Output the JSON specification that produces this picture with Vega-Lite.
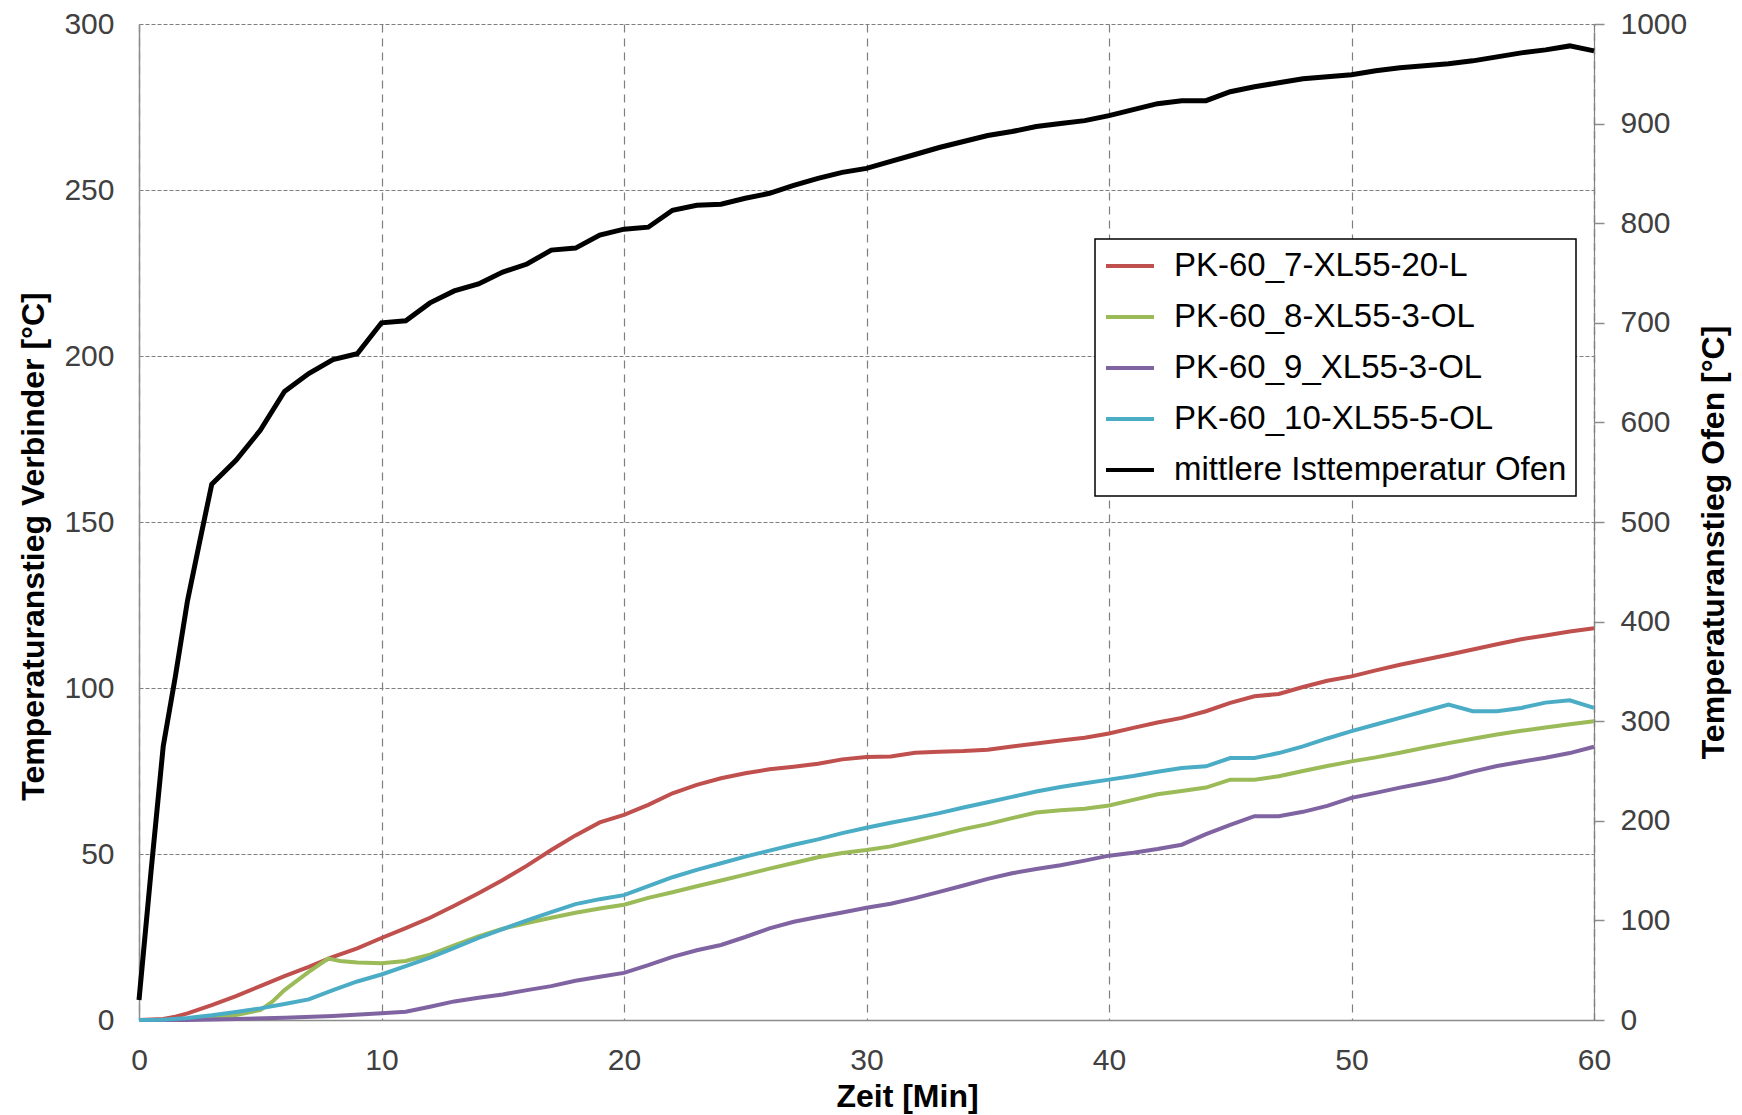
{
  "$schema": "https://vega.github.io/schema/vega-lite/v6.json",
  "width": 1455,
  "height": 996,
  "autosize": {"type": "none"},
  "padding": {"left": 139, "top": 24, "right": 148, "bottom": 95},
  "background": "white",
  "datasets": {
    "verbinder": [
      {"t":0,"series":"PK-60_7-XL55-20-L","v":0},{"t":1,"series":"PK-60_7-XL55-20-L","v":0.3},{"t":1.5,"series":"PK-60_7-XL55-20-L","v":1},{"t":2,"series":"PK-60_7-XL55-20-L","v":2},{"t":3,"series":"PK-60_7-XL55-20-L","v":4.5},{"t":4,"series":"PK-60_7-XL55-20-L","v":7.2},{"t":5,"series":"PK-60_7-XL55-20-L","v":10.2},{"t":6,"series":"PK-60_7-XL55-20-L","v":13.2},{"t":7,"series":"PK-60_7-XL55-20-L","v":16},{"t":8,"series":"PK-60_7-XL55-20-L","v":19},{"t":9,"series":"PK-60_7-XL55-20-L","v":21.6},{"t":10,"series":"PK-60_7-XL55-20-L","v":24.7},{"t":11,"series":"PK-60_7-XL55-20-L","v":27.7},{"t":12,"series":"PK-60_7-XL55-20-L","v":30.8},{"t":13,"series":"PK-60_7-XL55-20-L","v":34.4},{"t":14,"series":"PK-60_7-XL55-20-L","v":38.2},{"t":15,"series":"PK-60_7-XL55-20-L","v":42.2},{"t":16,"series":"PK-60_7-XL55-20-L","v":46.5},{"t":17,"series":"PK-60_7-XL55-20-L","v":51.2},{"t":18,"series":"PK-60_7-XL55-20-L","v":55.6},{"t":19,"series":"PK-60_7-XL55-20-L","v":59.5},{"t":20,"series":"PK-60_7-XL55-20-L","v":61.8},{"t":21,"series":"PK-60_7-XL55-20-L","v":64.8},{"t":22,"series":"PK-60_7-XL55-20-L","v":68.3},{"t":23,"series":"PK-60_7-XL55-20-L","v":70.8},{"t":24,"series":"PK-60_7-XL55-20-L","v":72.8},{"t":25,"series":"PK-60_7-XL55-20-L","v":74.3},{"t":26,"series":"PK-60_7-XL55-20-L","v":75.5},{"t":27,"series":"PK-60_7-XL55-20-L","v":76.3},{"t":28,"series":"PK-60_7-XL55-20-L","v":77.2},{"t":29,"series":"PK-60_7-XL55-20-L","v":78.5},{"t":30,"series":"PK-60_7-XL55-20-L","v":79.2},{"t":31,"series":"PK-60_7-XL55-20-L","v":79.4},{"t":32,"series":"PK-60_7-XL55-20-L","v":80.5},{"t":33,"series":"PK-60_7-XL55-20-L","v":80.8},{"t":34,"series":"PK-60_7-XL55-20-L","v":81},{"t":35,"series":"PK-60_7-XL55-20-L","v":81.4},{"t":36,"series":"PK-60_7-XL55-20-L","v":82.4},{"t":37,"series":"PK-60_7-XL55-20-L","v":83.3},{"t":38,"series":"PK-60_7-XL55-20-L","v":84.2},{"t":39,"series":"PK-60_7-XL55-20-L","v":85},{"t":40,"series":"PK-60_7-XL55-20-L","v":86.3},{"t":41,"series":"PK-60_7-XL55-20-L","v":88},{"t":42,"series":"PK-60_7-XL55-20-L","v":89.6},{"t":43,"series":"PK-60_7-XL55-20-L","v":91},{"t":44,"series":"PK-60_7-XL55-20-L","v":93},{"t":45,"series":"PK-60_7-XL55-20-L","v":95.5},{"t":46,"series":"PK-60_7-XL55-20-L","v":97.5},{"t":47,"series":"PK-60_7-XL55-20-L","v":98.2},{"t":48,"series":"PK-60_7-XL55-20-L","v":100.3},{"t":49,"series":"PK-60_7-XL55-20-L","v":102.2},{"t":50,"series":"PK-60_7-XL55-20-L","v":103.5},{"t":51,"series":"PK-60_7-XL55-20-L","v":105.3},{"t":52,"series":"PK-60_7-XL55-20-L","v":107},{"t":53,"series":"PK-60_7-XL55-20-L","v":108.5},{"t":54,"series":"PK-60_7-XL55-20-L","v":110},{"t":55,"series":"PK-60_7-XL55-20-L","v":111.6},{"t":56,"series":"PK-60_7-XL55-20-L","v":113.2},{"t":57,"series":"PK-60_7-XL55-20-L","v":114.7},{"t":58,"series":"PK-60_7-XL55-20-L","v":115.8},{"t":59,"series":"PK-60_7-XL55-20-L","v":117},{"t":60,"series":"PK-60_7-XL55-20-L","v":118},

      {"t":0,"series":"PK-60_8-XL55-3-OL","v":0},{"t":1,"series":"PK-60_8-XL55-3-OL","v":0},{"t":2,"series":"PK-60_8-XL55-3-OL","v":0.3},{"t":3,"series":"PK-60_8-XL55-3-OL","v":0.8},{"t":4,"series":"PK-60_8-XL55-3-OL","v":1.5},{"t":5,"series":"PK-60_8-XL55-3-OL","v":3},{"t":5.5,"series":"PK-60_8-XL55-3-OL","v":5.5},{"t":6,"series":"PK-60_8-XL55-3-OL","v":9},{"t":7,"series":"PK-60_8-XL55-3-OL","v":14.5},{"t":7.8,"series":"PK-60_8-XL55-3-OL","v":18.5},{"t":8.3,"series":"PK-60_8-XL55-3-OL","v":17.8},{"t":9,"series":"PK-60_8-XL55-3-OL","v":17.3},{"t":10,"series":"PK-60_8-XL55-3-OL","v":17.1},{"t":11,"series":"PK-60_8-XL55-3-OL","v":17.8},{"t":12,"series":"PK-60_8-XL55-3-OL","v":19.7},{"t":13,"series":"PK-60_8-XL55-3-OL","v":22.5},{"t":14,"series":"PK-60_8-XL55-3-OL","v":25.2},{"t":15,"series":"PK-60_8-XL55-3-OL","v":27.5},{"t":16,"series":"PK-60_8-XL55-3-OL","v":29.2},{"t":17,"series":"PK-60_8-XL55-3-OL","v":30.8},{"t":18,"series":"PK-60_8-XL55-3-OL","v":32.3},{"t":19,"series":"PK-60_8-XL55-3-OL","v":33.6},{"t":20,"series":"PK-60_8-XL55-3-OL","v":34.7},{"t":21,"series":"PK-60_8-XL55-3-OL","v":36.8},{"t":22,"series":"PK-60_8-XL55-3-OL","v":38.5},{"t":23,"series":"PK-60_8-XL55-3-OL","v":40.3},{"t":24,"series":"PK-60_8-XL55-3-OL","v":42},{"t":25,"series":"PK-60_8-XL55-3-OL","v":43.8},{"t":26,"series":"PK-60_8-XL55-3-OL","v":45.6},{"t":27,"series":"PK-60_8-XL55-3-OL","v":47.3},{"t":28,"series":"PK-60_8-XL55-3-OL","v":49},{"t":29,"series":"PK-60_8-XL55-3-OL","v":50.3},{"t":30,"series":"PK-60_8-XL55-3-OL","v":51.2},{"t":31,"series":"PK-60_8-XL55-3-OL","v":52.3},{"t":32,"series":"PK-60_8-XL55-3-OL","v":54},{"t":33,"series":"PK-60_8-XL55-3-OL","v":55.7},{"t":34,"series":"PK-60_8-XL55-3-OL","v":57.5},{"t":35,"series":"PK-60_8-XL55-3-OL","v":59},{"t":36,"series":"PK-60_8-XL55-3-OL","v":60.8},{"t":37,"series":"PK-60_8-XL55-3-OL","v":62.5},{"t":38,"series":"PK-60_8-XL55-3-OL","v":63.2},{"t":39,"series":"PK-60_8-XL55-3-OL","v":63.6},{"t":40,"series":"PK-60_8-XL55-3-OL","v":64.6},{"t":41,"series":"PK-60_8-XL55-3-OL","v":66.3},{"t":42,"series":"PK-60_8-XL55-3-OL","v":68},{"t":43,"series":"PK-60_8-XL55-3-OL","v":69},{"t":44,"series":"PK-60_8-XL55-3-OL","v":70},{"t":45,"series":"PK-60_8-XL55-3-OL","v":72.4},{"t":46,"series":"PK-60_8-XL55-3-OL","v":72.4},{"t":47,"series":"PK-60_8-XL55-3-OL","v":73.4},{"t":48,"series":"PK-60_8-XL55-3-OL","v":75},{"t":49,"series":"PK-60_8-XL55-3-OL","v":76.5},{"t":50,"series":"PK-60_8-XL55-3-OL","v":77.9},{"t":51,"series":"PK-60_8-XL55-3-OL","v":79.1},{"t":52,"series":"PK-60_8-XL55-3-OL","v":80.5},{"t":53,"series":"PK-60_8-XL55-3-OL","v":82},{"t":54,"series":"PK-60_8-XL55-3-OL","v":83.4},{"t":55,"series":"PK-60_8-XL55-3-OL","v":84.7},{"t":56,"series":"PK-60_8-XL55-3-OL","v":86},{"t":57,"series":"PK-60_8-XL55-3-OL","v":87.1},{"t":58,"series":"PK-60_8-XL55-3-OL","v":88.1},{"t":59,"series":"PK-60_8-XL55-3-OL","v":89.1},{"t":60,"series":"PK-60_8-XL55-3-OL","v":90},

      {"t":0,"series":"PK-60_9_XL55-3-OL","v":0},{"t":2,"series":"PK-60_9_XL55-3-OL","v":0},{"t":4,"series":"PK-60_9_XL55-3-OL","v":0.3},{"t":6,"series":"PK-60_9_XL55-3-OL","v":0.7},{"t":8,"series":"PK-60_9_XL55-3-OL","v":1.2},{"t":10,"series":"PK-60_9_XL55-3-OL","v":2},{"t":11,"series":"PK-60_9_XL55-3-OL","v":2.5},{"t":12,"series":"PK-60_9_XL55-3-OL","v":4},{"t":13,"series":"PK-60_9_XL55-3-OL","v":5.6},{"t":14,"series":"PK-60_9_XL55-3-OL","v":6.7},{"t":15,"series":"PK-60_9_XL55-3-OL","v":7.7},{"t":16,"series":"PK-60_9_XL55-3-OL","v":9},{"t":17,"series":"PK-60_9_XL55-3-OL","v":10.2},{"t":18,"series":"PK-60_9_XL55-3-OL","v":11.8},{"t":19,"series":"PK-60_9_XL55-3-OL","v":13},{"t":20,"series":"PK-60_9_XL55-3-OL","v":14.2},{"t":21,"series":"PK-60_9_XL55-3-OL","v":16.5},{"t":22,"series":"PK-60_9_XL55-3-OL","v":19},{"t":23,"series":"PK-60_9_XL55-3-OL","v":21},{"t":24,"series":"PK-60_9_XL55-3-OL","v":22.6},{"t":25,"series":"PK-60_9_XL55-3-OL","v":25},{"t":26,"series":"PK-60_9_XL55-3-OL","v":27.6},{"t":27,"series":"PK-60_9_XL55-3-OL","v":29.6},{"t":28,"series":"PK-60_9_XL55-3-OL","v":31},{"t":29,"series":"PK-60_9_XL55-3-OL","v":32.4},{"t":30,"series":"PK-60_9_XL55-3-OL","v":33.8},{"t":31,"series":"PK-60_9_XL55-3-OL","v":35},{"t":32,"series":"PK-60_9_XL55-3-OL","v":36.7},{"t":33,"series":"PK-60_9_XL55-3-OL","v":38.6},{"t":34,"series":"PK-60_9_XL55-3-OL","v":40.5},{"t":35,"series":"PK-60_9_XL55-3-OL","v":42.5},{"t":36,"series":"PK-60_9_XL55-3-OL","v":44.2},{"t":37,"series":"PK-60_9_XL55-3-OL","v":45.5},{"t":38,"series":"PK-60_9_XL55-3-OL","v":46.6},{"t":39,"series":"PK-60_9_XL55-3-OL","v":48},{"t":40,"series":"PK-60_9_XL55-3-OL","v":49.5},{"t":41,"series":"PK-60_9_XL55-3-OL","v":50.4},{"t":42,"series":"PK-60_9_XL55-3-OL","v":51.5},{"t":43,"series":"PK-60_9_XL55-3-OL","v":52.8},{"t":44,"series":"PK-60_9_XL55-3-OL","v":56},{"t":45,"series":"PK-60_9_XL55-3-OL","v":58.8},{"t":46,"series":"PK-60_9_XL55-3-OL","v":61.4},{"t":47,"series":"PK-60_9_XL55-3-OL","v":61.4},{"t":48,"series":"PK-60_9_XL55-3-OL","v":62.7},{"t":49,"series":"PK-60_9_XL55-3-OL","v":64.5},{"t":50,"series":"PK-60_9_XL55-3-OL","v":66.9},{"t":51,"series":"PK-60_9_XL55-3-OL","v":68.4},{"t":52,"series":"PK-60_9_XL55-3-OL","v":70},{"t":53,"series":"PK-60_9_XL55-3-OL","v":71.4},{"t":54,"series":"PK-60_9_XL55-3-OL","v":72.9},{"t":55,"series":"PK-60_9_XL55-3-OL","v":74.8},{"t":56,"series":"PK-60_9_XL55-3-OL","v":76.5},{"t":57,"series":"PK-60_9_XL55-3-OL","v":77.8},{"t":58,"series":"PK-60_9_XL55-3-OL","v":79},{"t":59,"series":"PK-60_9_XL55-3-OL","v":80.4},{"t":60,"series":"PK-60_9_XL55-3-OL","v":82.3},

      {"t":0,"series":"PK-60_10-XL55-5-OL","v":0},{"t":1,"series":"PK-60_10-XL55-5-OL","v":0.1},{"t":2,"series":"PK-60_10-XL55-5-OL","v":0.6},{"t":3,"series":"PK-60_10-XL55-5-OL","v":1.4},{"t":4,"series":"PK-60_10-XL55-5-OL","v":2.4},{"t":5,"series":"PK-60_10-XL55-5-OL","v":3.5},{"t":6,"series":"PK-60_10-XL55-5-OL","v":4.8},{"t":7,"series":"PK-60_10-XL55-5-OL","v":6.2},{"t":8,"series":"PK-60_10-XL55-5-OL","v":9},{"t":9,"series":"PK-60_10-XL55-5-OL","v":11.6},{"t":10,"series":"PK-60_10-XL55-5-OL","v":13.7},{"t":11,"series":"PK-60_10-XL55-5-OL","v":16.2},{"t":12,"series":"PK-60_10-XL55-5-OL","v":18.8},{"t":13,"series":"PK-60_10-XL55-5-OL","v":21.7},{"t":14,"series":"PK-60_10-XL55-5-OL","v":24.7},{"t":15,"series":"PK-60_10-XL55-5-OL","v":27.4},{"t":16,"series":"PK-60_10-XL55-5-OL","v":30},{"t":17,"series":"PK-60_10-XL55-5-OL","v":32.5},{"t":18,"series":"PK-60_10-XL55-5-OL","v":34.9},{"t":19,"series":"PK-60_10-XL55-5-OL","v":36.4},{"t":20,"series":"PK-60_10-XL55-5-OL","v":37.6},{"t":21,"series":"PK-60_10-XL55-5-OL","v":40.3},{"t":22,"series":"PK-60_10-XL55-5-OL","v":43},{"t":23,"series":"PK-60_10-XL55-5-OL","v":45.2},{"t":24,"series":"PK-60_10-XL55-5-OL","v":47.2},{"t":25,"series":"PK-60_10-XL55-5-OL","v":49.2},{"t":26,"series":"PK-60_10-XL55-5-OL","v":51},{"t":27,"series":"PK-60_10-XL55-5-OL","v":52.8},{"t":28,"series":"PK-60_10-XL55-5-OL","v":54.4},{"t":29,"series":"PK-60_10-XL55-5-OL","v":56.3},{"t":30,"series":"PK-60_10-XL55-5-OL","v":57.9},{"t":31,"series":"PK-60_10-XL55-5-OL","v":59.4},{"t":32,"series":"PK-60_10-XL55-5-OL","v":60.8},{"t":33,"series":"PK-60_10-XL55-5-OL","v":62.3},{"t":34,"series":"PK-60_10-XL55-5-OL","v":64},{"t":35,"series":"PK-60_10-XL55-5-OL","v":65.6},{"t":36,"series":"PK-60_10-XL55-5-OL","v":67.2},{"t":37,"series":"PK-60_10-XL55-5-OL","v":68.8},{"t":38,"series":"PK-60_10-XL55-5-OL","v":70.2},{"t":39,"series":"PK-60_10-XL55-5-OL","v":71.3},{"t":40,"series":"PK-60_10-XL55-5-OL","v":72.4},{"t":41,"series":"PK-60_10-XL55-5-OL","v":73.5},{"t":42,"series":"PK-60_10-XL55-5-OL","v":74.8},{"t":43,"series":"PK-60_10-XL55-5-OL","v":75.9},{"t":44,"series":"PK-60_10-XL55-5-OL","v":76.4},{"t":45,"series":"PK-60_10-XL55-5-OL","v":78.9},{"t":46,"series":"PK-60_10-XL55-5-OL","v":78.9},{"t":47,"series":"PK-60_10-XL55-5-OL","v":80.4},{"t":48,"series":"PK-60_10-XL55-5-OL","v":82.4},{"t":49,"series":"PK-60_10-XL55-5-OL","v":84.8},{"t":50,"series":"PK-60_10-XL55-5-OL","v":87},{"t":51,"series":"PK-60_10-XL55-5-OL","v":89},{"t":52,"series":"PK-60_10-XL55-5-OL","v":91},{"t":53,"series":"PK-60_10-XL55-5-OL","v":93},{"t":54,"series":"PK-60_10-XL55-5-OL","v":95},{"t":55,"series":"PK-60_10-XL55-5-OL","v":93},{"t":56,"series":"PK-60_10-XL55-5-OL","v":93},{"t":57,"series":"PK-60_10-XL55-5-OL","v":94},{"t":58,"series":"PK-60_10-XL55-5-OL","v":95.6},{"t":59,"series":"PK-60_10-XL55-5-OL","v":96.3},{"t":60,"series":"PK-60_10-XL55-5-OL","v":94}
    ],
    "ofen": [
      {"t":0,"series":"mittlere Isttemperatur Ofen","v":20},{"t":0.5,"series":"mittlere Isttemperatur Ofen","v":150},{"t":1,"series":"mittlere Isttemperatur Ofen","v":275},{"t":1.5,"series":"mittlere Isttemperatur Ofen","v":345},{"t":2,"series":"mittlere Isttemperatur Ofen","v":421},{"t":2.5,"series":"mittlere Isttemperatur Ofen","v":480},{"t":3,"series":"mittlere Isttemperatur Ofen","v":538},{"t":4,"series":"mittlere Isttemperatur Ofen","v":562},{"t":5,"series":"mittlere Isttemperatur Ofen","v":592},{"t":6,"series":"mittlere Isttemperatur Ofen","v":631},{"t":7,"series":"mittlere Isttemperatur Ofen","v":649},{"t":8,"series":"mittlere Isttemperatur Ofen","v":663},{"t":9,"series":"mittlere Isttemperatur Ofen","v":669},{"t":10,"series":"mittlere Isttemperatur Ofen","v":700},{"t":11,"series":"mittlere Isttemperatur Ofen","v":702},{"t":12,"series":"mittlere Isttemperatur Ofen","v":720},{"t":13,"series":"mittlere Isttemperatur Ofen","v":732},{"t":14,"series":"mittlere Isttemperatur Ofen","v":739},{"t":15,"series":"mittlere Isttemperatur Ofen","v":751},{"t":16,"series":"mittlere Isttemperatur Ofen","v":759},{"t":17,"series":"mittlere Isttemperatur Ofen","v":773},{"t":18,"series":"mittlere Isttemperatur Ofen","v":775},{"t":19,"series":"mittlere Isttemperatur Ofen","v":788},{"t":20,"series":"mittlere Isttemperatur Ofen","v":794},{"t":21,"series":"mittlere Isttemperatur Ofen","v":796},{"t":22,"series":"mittlere Isttemperatur Ofen","v":813},{"t":23,"series":"mittlere Isttemperatur Ofen","v":818},{"t":24,"series":"mittlere Isttemperatur Ofen","v":819},{"t":25,"series":"mittlere Isttemperatur Ofen","v":825},{"t":26,"series":"mittlere Isttemperatur Ofen","v":830},{"t":27,"series":"mittlere Isttemperatur Ofen","v":838},{"t":28,"series":"mittlere Isttemperatur Ofen","v":845},{"t":29,"series":"mittlere Isttemperatur Ofen","v":851},{"t":30,"series":"mittlere Isttemperatur Ofen","v":855},{"t":31,"series":"mittlere Isttemperatur Ofen","v":862},{"t":32,"series":"mittlere Isttemperatur Ofen","v":869},{"t":33,"series":"mittlere Isttemperatur Ofen","v":876},{"t":34,"series":"mittlere Isttemperatur Ofen","v":882},{"t":35,"series":"mittlere Isttemperatur Ofen","v":888},{"t":36,"series":"mittlere Isttemperatur Ofen","v":892},{"t":37,"series":"mittlere Isttemperatur Ofen","v":897},{"t":38,"series":"mittlere Isttemperatur Ofen","v":900},{"t":39,"series":"mittlere Isttemperatur Ofen","v":903},{"t":40,"series":"mittlere Isttemperatur Ofen","v":908},{"t":41,"series":"mittlere Isttemperatur Ofen","v":914},{"t":42,"series":"mittlere Isttemperatur Ofen","v":920},{"t":43,"series":"mittlere Isttemperatur Ofen","v":923},{"t":44,"series":"mittlere Isttemperatur Ofen","v":923},{"t":45,"series":"mittlere Isttemperatur Ofen","v":932},{"t":46,"series":"mittlere Isttemperatur Ofen","v":937},{"t":47,"series":"mittlere Isttemperatur Ofen","v":941},{"t":48,"series":"mittlere Isttemperatur Ofen","v":945},{"t":49,"series":"mittlere Isttemperatur Ofen","v":947},{"t":50,"series":"mittlere Isttemperatur Ofen","v":949},{"t":51,"series":"mittlere Isttemperatur Ofen","v":953},{"t":52,"series":"mittlere Isttemperatur Ofen","v":956},{"t":53,"series":"mittlere Isttemperatur Ofen","v":958},{"t":54,"series":"mittlere Isttemperatur Ofen","v":960},{"t":55,"series":"mittlere Isttemperatur Ofen","v":963},{"t":56,"series":"mittlere Isttemperatur Ofen","v":967},{"t":57,"series":"mittlere Isttemperatur Ofen","v":971},{"t":58,"series":"mittlere Isttemperatur Ofen","v":974},{"t":59,"series":"mittlere Isttemperatur Ofen","v":978},{"t":60,"series":"mittlere Isttemperatur Ofen","v":973}
    ]
  },
  "encoding": {
    "x": {
      "field": "t", "type": "quantitative",
      "scale": {"domain": [0, 60], "nice": false, "zero": false},
      "axis": {
        "values": [0, 10, 20, 30, 40, 50, 60],
        "title": "Zeit [Min]",
        "grid": true, "gridDash": [8, 6], "gridColor": "#7f7f7f", "gridWidth": 1.2,
        "domain": true, "domainColor": "#8c8c8c", "domainWidth": 1.5,
        "ticks": false, "labelFlush": false, "labelBound": false, "labelOverlap": false,
        "labelFontSize": 30, "labelColor": "#404040", "labelPadding": 25,
        "titleFontSize": 32, "titleFontWeight": "bold", "titleColor": "black",
        "titleX": 768, "titleY": 86, "titleBaseline": "alphabetic", "titleAlign": "center"
      }
    }
  },
  "layer": [
    {
      "data": {"name": "verbinder"},
      "mark": {"type": "line", "strokeWidth": 4, "interpolate": "linear"},
      "encoding": {
        "y": {
          "field": "v", "type": "quantitative",
          "scale": {"domain": [0, 300], "nice": false},
          "axis": {
            "orient": "left",
            "values": [0, 50, 100, 150, 200, 250, 300],
            "title": "Temperaturanstieg Verbinder [°C]",
            "grid": true, "gridDash": [4, 2], "gridColor": "#7f7f7f", "gridWidth": 1.2,
            "domain": true, "domainColor": "#8c8c8c", "domainWidth": 1.5,
            "ticks": false, "labelFlush": false, "labelBound": false, "labelOverlap": false,
            "labelFontSize": 30, "labelColor": "#404040", "labelPadding": 25,
            "titleFontSize": 32, "titleFontWeight": "bold", "titleColor": "black",
            "titleAngle": 270, "titleX": -106, "titleY": 522, "titleAlign": "center", "titleBaseline": "middle"
          }
        },
        "color": {
          "field": "series", "type": "nominal",
          "scale": {
            "domain": ["PK-60_7-XL55-20-L", "PK-60_8-XL55-3-OL", "PK-60_9_XL55-3-OL", "PK-60_10-XL55-5-OL", "mittlere Isttemperatur Ofen"],
            "range": ["#C0504D", "#9BBB59", "#8064A2", "#4BACC6", "#000000"]
          },
          "legend": {
            "orient": "none", "legendX": 956, "legendY": 215,
            "title": null,
            "symbolType": "M-1,0L2,0", "symbolSize": 1024, "symbolStrokeWidth": 4,
            "labelFontSize": 33, "labelColor": "black", "labelOffset": 34, "labelLimit": 800,
            "rowPadding": 16, "padding": 9,
            "fillColor": "white", "strokeColor": "black"
          }
        }
      }
    },
    {
      "data": {"name": "ofen"},
      "mark": {"type": "line", "strokeWidth": 5, "interpolate": "linear"},
      "encoding": {
        "y": {
          "field": "v", "type": "quantitative",
          "scale": {"domain": [0, 1000], "nice": false},
          "axis": {
            "orient": "right",
            "values": [0, 100, 200, 300, 400, 500, 600, 700, 800, 900, 1000],
            "format": "d",
            "title": "Temperaturanstieg Ofen [°C]",
            "grid": false,
            "domain": true, "domainColor": "#7f7f7f", "domainWidth": 1.5, "domainDash": [8, 6],
            "ticks": true, "tickSize": 10, "tickColor": "#8c8c8c", "tickWidth": 1.5,
            "labelFlush": false, "labelBound": false, "labelOverlap": false,
            "labelFontSize": 30, "labelColor": "#404040", "labelPadding": 16,
            "titleFontSize": 32, "titleFontWeight": "bold", "titleColor": "black",
            "titleAngle": 270, "titleX": 119, "titleY": 518, "titleAlign": "center", "titleBaseline": "middle"
          }
        },
        "color": {
          "field": "series", "type": "nominal",
          "scale": {
            "domain": ["PK-60_7-XL55-20-L", "PK-60_8-XL55-3-OL", "PK-60_9_XL55-3-OL", "PK-60_10-XL55-5-OL", "mittlere Isttemperatur Ofen"],
            "range": ["#C0504D", "#9BBB59", "#8064A2", "#4BACC6", "#000000"]
          }
        }
      }
    }
  ],
  "resolve": {"scale": {"y": "independent", "color": "shared"}},
  "config": {
    "view": {"stroke": null},
    "font": "Liberation Sans",
    "axis": {"labelFont": "Liberation Sans", "titleFont": "Liberation Sans"},
    "legend": {"labelFont": "Liberation Sans", "strokeWidth": 1.5, "labelLimit": 800}
  }
}
